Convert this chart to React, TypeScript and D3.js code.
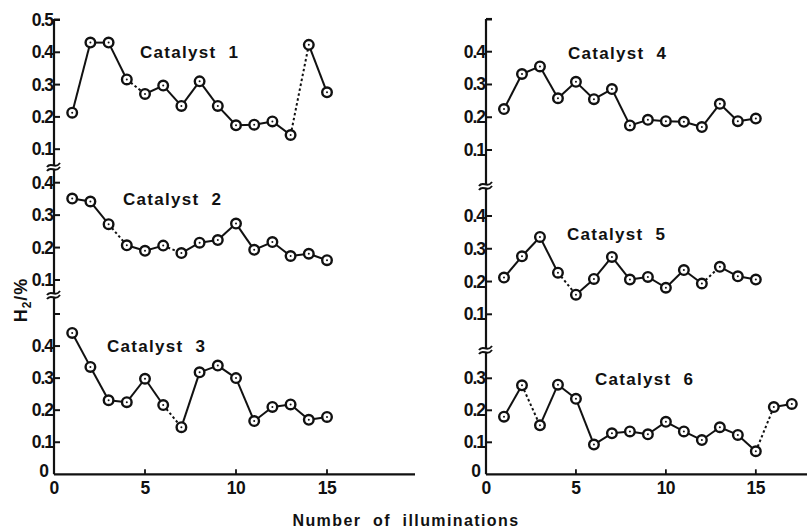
import React from "react";
import * as d3 from "d3";

const runs1 = [1, 2, 3, 4, 5, 6, 7, 8, 9, 10, 11, 12, 13, 14, 15];
const runs6 = [1, 2, 3, 4, 5, 6, 7, 8, 9, 10, 11, 12, 13, 14, 15, 16, 17];

const cat1 = [0.213, 0.43, 0.43, 0.316, 0.271, 0.297, 0.234, 0.31, 0.234, 0.174, 0.176, 0.186, 0.144, 0.423, 0.276];
const cat2 = [0.351, 0.342, 0.272, 0.207, 0.19, 0.206, 0.183, 0.215, 0.223, 0.274, 0.193, 0.217, 0.174, 0.181, 0.161];
const cat3 = [0.441, 0.335, 0.231, 0.225, 0.298, 0.216, 0.147, 0.318, 0.339, 0.3, 0.166, 0.21, 0.218, 0.17, 0.179];
const cat4 = [0.225, 0.332, 0.355, 0.258, 0.308, 0.255, 0.286, 0.175, 0.192, 0.188, 0.186, 0.17, 0.241, 0.188, 0.196];
const cat5 = [0.212, 0.277, 0.336, 0.227, 0.16, 0.208, 0.275, 0.206, 0.214, 0.181, 0.235, 0.194, 0.245, 0.216, 0.206];
const cat6 = [0.18, 0.278, 0.153, 0.28, 0.236, 0.093, 0.128, 0.134, 0.125, 0.164, 0.134, 0.107, 0.147, 0.123, 0.072, 0.21, 0.22];

// segment start runs drawn dashed
const dashed1 = [4, 13];
const dashed2 = [3, 6];
const dashed3 = [6];
const dashed4: number[] = [];
const dashed5 = [4, 12];
const dashed6 = [2, 15];

const xTicks = [0, 5, 10, 15];
const yTicksTop = [0.1, 0.2, 0.3, 0.4, 0.5];
const yTicksMid = [0.1, 0.2, 0.3, 0.4];
const yTicksLow = [0, 0.1, 0.2, 0.3, 0.4];
const yTicksR6 = [0, 0.1, 0.2, 0.3];

const xLeft = d3.scaleLinear().domain([0, 20]).range([54, 418]);
const xRight = d3.scaleLinear().domain([0, 17.9]).range([486, 808]);

const FONT = "'Liberation Sans', Arial, sans-serif";

type Panel = {
  name: string;
  runs: number[];
  vals: number[];
  dashed: number[];
  x: d3.ScaleLinear<number, number>;
  y: d3.ScaleLinear<number, number>;
  ticks: number[];
  unlabeled: number[];
  label: [number, number];
};

const panels: Panel[] = [
  { name: "1", runs: runs1, vals: cat1, dashed: dashed1, x: xLeft, y: d3.scaleLinear().domain([0, 0.5]).range([181.5, 20]), ticks: yTicksTop, unlabeled: [], label: [140, 58] },
  { name: "2", runs: runs1, vals: cat2, dashed: dashed2, x: xLeft, y: d3.scaleLinear().domain([0.1, 0.4]).range([280, 182.7]), ticks: yTicksMid, unlabeled: [], label: [123, 205] },
  { name: "3", runs: runs1, vals: cat3, dashed: dashed3, x: xLeft, y: d3.scaleLinear().domain([0, 0.5]).range([474.3, 314]), ticks: yTicksLow, unlabeled: [0.5], label: [107, 352] },
  { name: "4", runs: runs1, vals: cat4, dashed: dashed4, x: xRight, y: d3.scaleLinear().domain([0.1, 0.4]).range([150, 51.7]), ticks: yTicksMid, unlabeled: [0.5], label: [568, 59] },
  { name: "5", runs: runs1, vals: cat5, dashed: dashed5, x: xRight, y: d3.scaleLinear().domain([0.1, 0.4]).range([314.3, 216]), ticks: yTicksMid, unlabeled: [], label: [567, 240] },
  { name: "6", runs: runs6, vals: cat6, dashed: dashed6, x: xRight, y: d3.scaleLinear().domain([0, 0.3]).range([474.3, 378.3]), ticks: yTicksR6, unlabeled: [], label: [595, 385] },
];

function BreakMark({ x, y }: { x: number; y: number }) {
  const d = (dy: number) =>
    `M${x - 7},${y + dy + 2} C${x - 3},${y + dy - 4} ${x + 1},${y + dy + 5} ${x + 6},${y + dy - 2}`;
  return (
    <g>
      <rect x={x - 3} y={y - 2} width={6} height={5} fill="white" />
      <path d={d(-2)} fill="none" stroke="#111" strokeWidth={2} />
      <path d={d(2)} fill="none" stroke="#111" strokeWidth={2} />
    </g>
  );
}

function PanelMarks({ p }: { p: Panel }) {
  const pts = p.runs.map((r, i) => [p.x(r), p.y(p.vals[i])] as [number, number]);
  const line = d3.line();
  const ax = p.x(0);
  return (
    <g>
      {p.ticks.map((t) => (
        <g key={"t" + t}>
          {t !== 0 && <line x1={ax} x2={ax + 6} y1={p.y(t)} y2={p.y(t)} stroke="#111" strokeWidth={2} />}
          <text
            x={t === 0 ? ax - 6 : ax - 1}
            y={t === 0 ? p.y(t) + 3 : p.y(t) + 6}
            textAnchor="end"
            fontFamily={FONT}
            fontWeight="bold"
            fontSize={17.5}
            letterSpacing={-1}
            fill="#111"
          >
            {t === 0 ? "0" : t.toFixed(1)}
          </text>
        </g>
      ))}
      {p.unlabeled.map((t) => (
        <line key={"u" + t} x1={ax} x2={ax + 6} y1={p.y(t)} y2={p.y(t)} stroke="#111" strokeWidth={2} />
      ))}
      {pts.slice(0, -1).map((pt, i) => (
        <path
          key={"s" + i}
          d={line([pt, pts[i + 1]]) || ""}
          fill="none"
          stroke="#111"
          strokeWidth={2}
          strokeDasharray={p.dashed.includes(p.runs[i]) ? "2.5,2.5" : undefined}
        />
      ))}
      {pts.map((pt, i) => (
        <g key={"m" + i}>
          <circle cx={pt[0]} cy={pt[1]} r={4.8} fill="white" stroke="#111" strokeWidth={2.4} />
          <circle cx={pt[0]} cy={pt[1]} r={1} fill="#111" />
        </g>
      ))}
      <text
        x={p.label[0]}
        y={p.label[1]}
        fontFamily={FONT}
        fontWeight="bold"
        fontSize={17}
        letterSpacing={1.3}
        fill="#111"
        style={{ whiteSpace: "pre" }}
      >
        {"Catalyst  " + p.name}
      </text>
    </g>
  );
}

export default function App() {
  const yBase = 474.3;
  return (
    <svg
      width={807}
      height={528}
      style={{ position: "absolute", left: 0, top: 0, background: "white" }}
    >
      {/* vertical axes */}
      <line x1={xLeft(0)} x2={xLeft(0)} y1={19} y2={yBase} stroke="#111" strokeWidth={2.2} />
      <line x1={xLeft(0)} x2={xLeft(0) + 6} y1={19.5} y2={19.5} stroke="#111" strokeWidth={2} />
      <line x1={xRight(0)} x2={xRight(0)} y1={19} y2={yBase} stroke="#111" strokeWidth={2.2} />
      <line x1={xRight(0)} x2={xRight(0) + 6} y1={19.5} y2={19.5} stroke="#111" strokeWidth={2} />
      {/* horizontal axes */}
      <line x1={xLeft(0)} x2={415} y1={yBase} y2={yBase} stroke="#111" strokeWidth={2.2} />
      <line x1={xRight(0)} x2={807} y1={yBase} y2={yBase} stroke="#111" strokeWidth={2.2} />
      {xTicks.map((t) => (
        <g key={"xl" + t}>
          {t > 0 && <line x1={xLeft(t)} x2={xLeft(t)} y1={yBase} y2={yBase - 5} stroke="#111" strokeWidth={1.8} />}
          <text x={xLeft(t)} y={494} textAnchor="middle" fontFamily={FONT} fontWeight="bold" fontSize={17.5} letterSpacing={-0.5} fill="#111">
            {t}
          </text>
          {t > 0 && <line x1={xRight(t)} x2={xRight(t)} y1={yBase} y2={yBase - 5} stroke="#111" strokeWidth={1.8} />}
          <text x={xRight(t)} y={494} textAnchor="middle" fontFamily={FONT} fontWeight="bold" fontSize={17.5} letterSpacing={-0.5} fill="#111">
            {t}
          </text>
        </g>
      ))}
      {panels.map((p) => (
        <PanelMarks key={p.name} p={p} />
      ))}
      <BreakMark x={xLeft(0)} y={167} />
      <BreakMark x={xLeft(0)} y={295} />
      <BreakMark x={xRight(0)} y={186} />
      <BreakMark x={xRight(0)} y={350} />
      <text
        transform="translate(27,300) rotate(-90)"
        textAnchor="middle"
        fontFamily={FONT}
        fontWeight="bold"
        fontSize={18}
        letterSpacing={1}
        fill="#111"
      >
        H<tspan fontSize={12} dy={4}>2</tspan>
        <tspan dy={-4}>/%</tspan>
      </text>
      <text x={406} y={526} textAnchor="middle" fontFamily={FONT} fontWeight="bold" fontSize={16} letterSpacing={1.4} fill="#111" style={{ whiteSpace: "pre" }}>
        {"Number  of  illuminations"}
      </text>
    </svg>
  );
}
